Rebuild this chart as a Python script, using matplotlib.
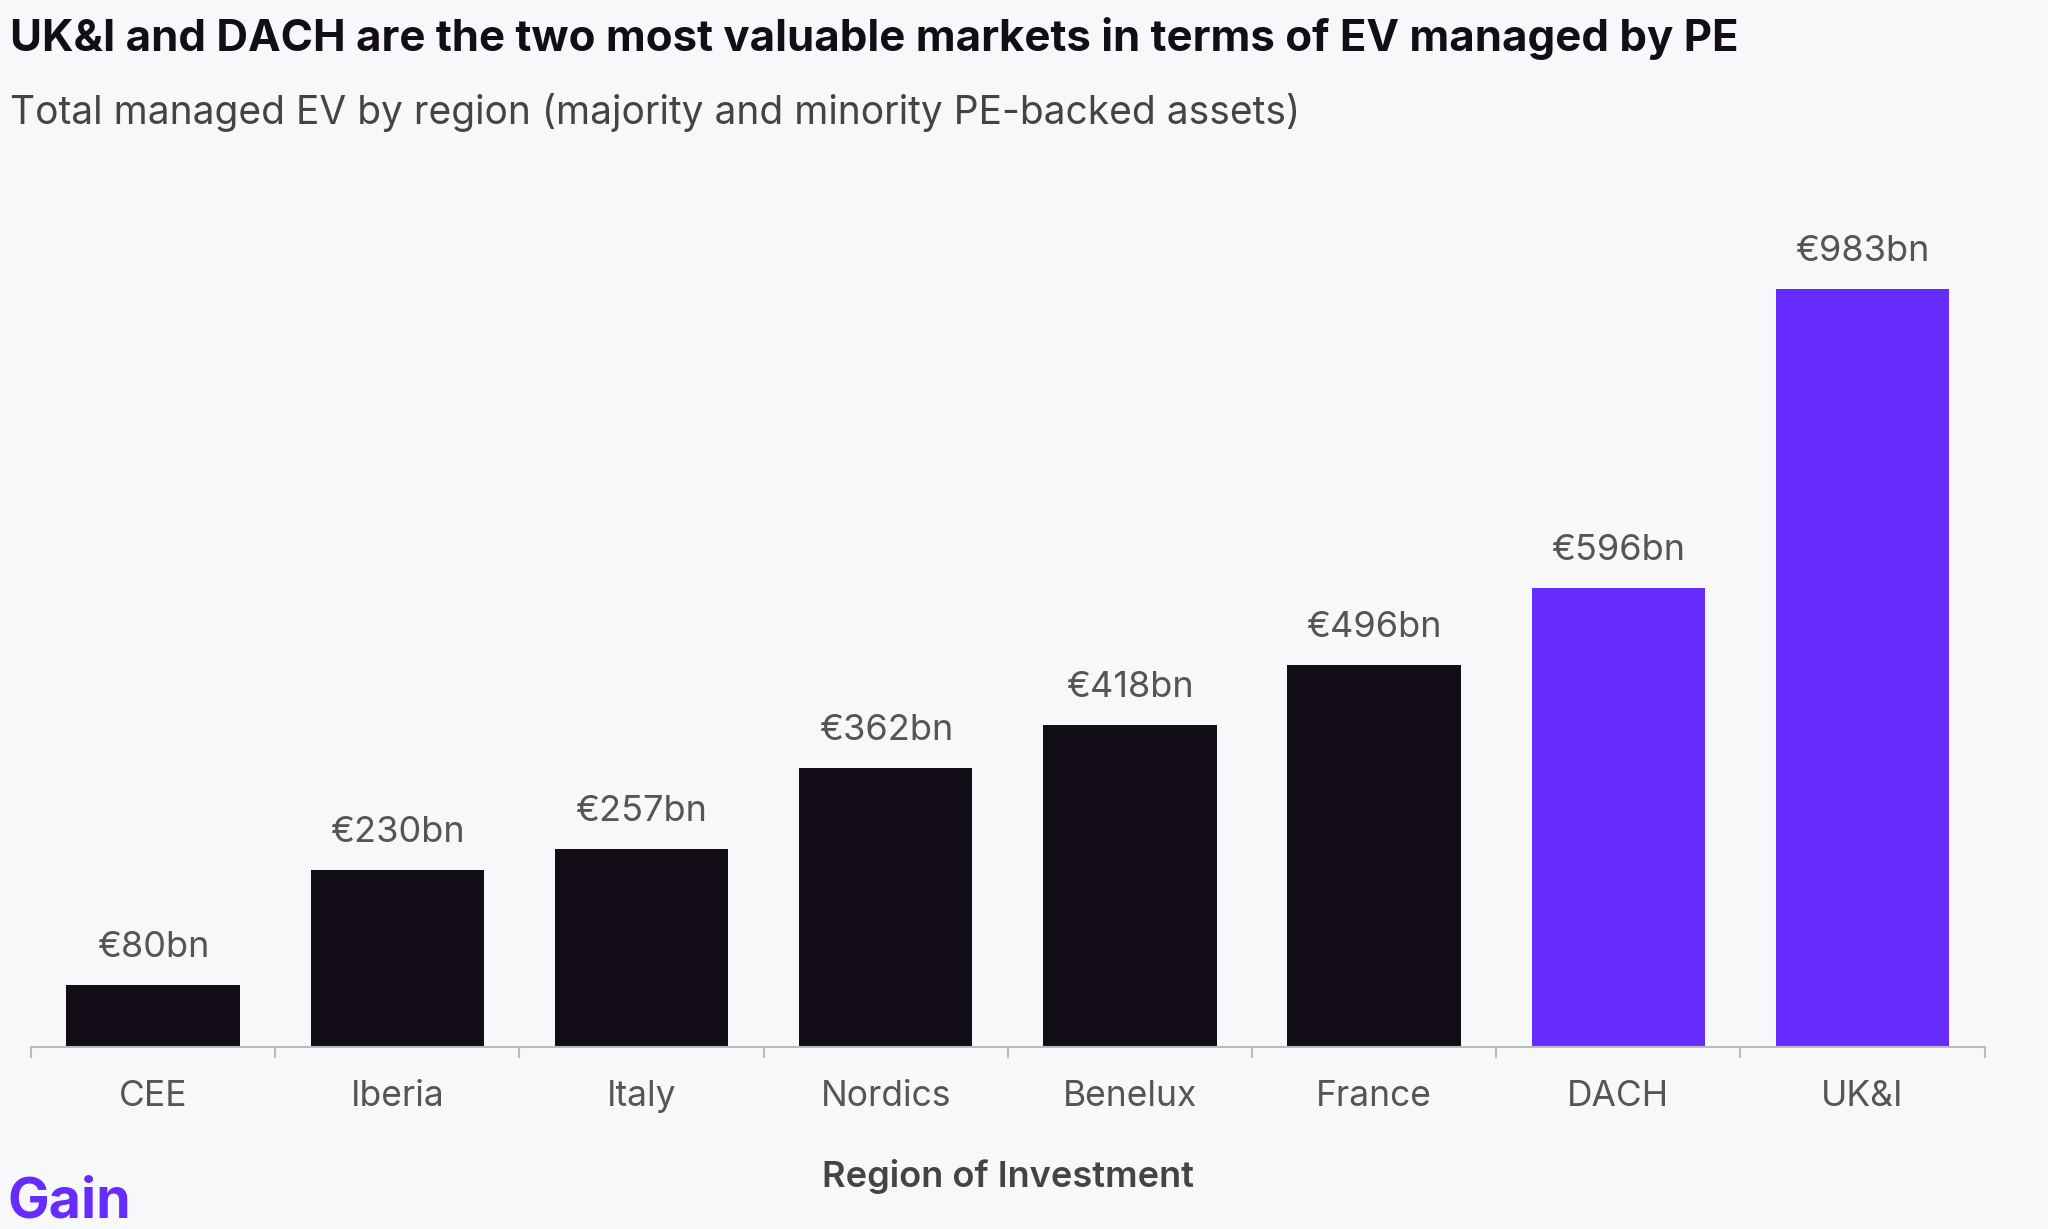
import matplotlib.pyplot as plt
import numpy as np

regions = ["CEE", "Iberia", "Italy", "Nordics", "Benelux", "France", "DACH", "UK&I"]
ev_bn = [80, 230, 257, 362, 418, 496, 596, 983]
highlight = ["DACH", "UK&I"]

bg = "#F7F8FA"
dark = "#120D16"
purple = "#662BFF"

plt.rcParams["font.family"] = ["Inter", "DejaVu Sans"]

fig = plt.figure(figsize=(20.48, 12.29), dpi=100, facecolor=bg)
ax = fig.add_axes([0.0151, 0.148, 0.954, 0.692])
ax.set_facecolor(bg)

x = np.arange(len(regions))
colors = [purple if r in highlight else dark for r in regions]
ax.bar(x, ev_bn, width=0.71, color=colors, zorder=2)

for xi, v in zip(x, ev_bn):
    ax.annotate(f"€{v}bn", (xi, v), xytext=(0, 27), textcoords="offset points",
                ha="center", va="center", fontsize=26, color="#555555")

ax.set_xlim(-0.5, len(regions) - 0.5)
ax.set_ylim(0, 1103)
ax.set_yticks([])
for s in ["top", "right", "left"]:
    ax.spines[s].set_visible(False)
ax.spines["bottom"].set_color("#BBBBBB")
ax.spines["bottom"].set_linewidth(1.5)

ax.set_xticks(x)
ax.set_xticklabels(regions, fontsize=25.5, color="#555555")
ax.tick_params(axis="x", which="major", length=0, pad=24)
ax.set_xticks(np.arange(-0.5, len(regions)), minor=True)
ax.tick_params(axis="x", which="minor", length=8, width=1.5, color="#BBBBBB")

fig.text(0.5 * (0.0151 + 0.969), 1 - 1176 / 1229, "Region of Investment",
         ha="center", va="center", fontsize=26, fontweight="semibold", color="#444444")

fig.text(10 / 2048, 1 - 38 / 1229, "UK&I and DACH are the two most valuable markets in terms of EV managed by PE",
         ha="left", va="center", fontsize=31.5, fontweight="bold", color="#120D16")
fig.text(10 / 2048, 1 - 112 / 1229, "Total managed EV by region (majority and minority PE-backed assets)",
         ha="left", va="center", fontsize=28, color="#444444")

fig.text(7 / 2048, 1 - 1203 / 1229, "Gain", ha="left", va="center", fontsize=40,
         fontweight="bold", color=purple)

fig.savefig("out.png", dpi=100, facecolor=bg)
